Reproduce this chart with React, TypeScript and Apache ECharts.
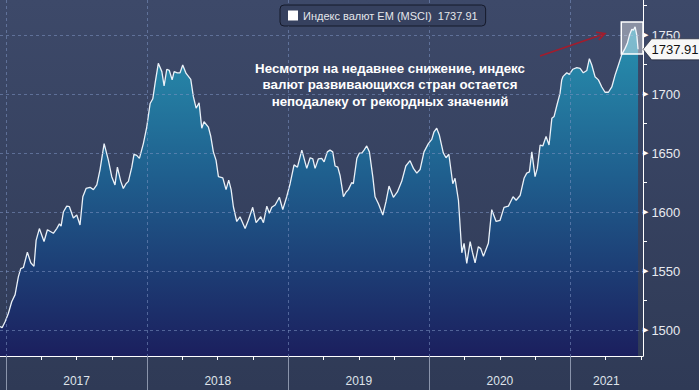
import { useEffect, useRef } from 'react';
import * as echarts from 'echarts';

const SERIES_NAME = 'Индекс валют EM (MSCI)';

// [year fraction, index value]
const emIndex: [number, number][] = [
  [2016.957,1503],[2016.972,1502],[2016.993,1507],[2017.016,1514],[2017.040,1524],[2017.064,1530],[2017.087,1545],[2017.104,1552],[2017.123,1553],[2017.151,1566],[2017.175,1557],[2017.198,1554],[2017.213,1576],[2017.236,1586],[2017.269,1575],[2017.293,1585],[2017.335,1582],[2017.359,1586],[2017.378,1590],[2017.390,1588],[2017.406,1600],[2017.430,1605],[2017.449,1604.5],[2017.477,1595],[2017.501,1597.5],[2017.524,1589],[2017.544,1613],[2017.567,1620],[2017.595,1621],[2017.619,1619],[2017.643,1623],[2017.666,1636],[2017.695,1658],[2017.725,1644],[2017.749,1630],[2017.772,1623],[2017.789,1638],[2017.813,1626],[2017.831,1620],[2017.850,1624],[2017.867,1626],[2017.891,1638],[2017.907,1649],[2017.926,1648],[2017.945,1645.5],[2017.973,1658],[2017.997,1672],
  [2018.021,1692],[2018.040,1696],[2018.056,1709],[2018.079,1726],[2018.104,1719],[2018.120,1707],[2018.139,1721],[2018.157,1720],[2018.177,1712],[2018.191,1719],[2018.214,1718],[2018.233,1718],[2018.252,1724.6],[2018.276,1717.5],[2018.309,1712.5],[2018.327,1698],[2018.347,1688],[2018.368,1692.6],[2018.387,1671],[2018.403,1676.5],[2018.434,1672],[2018.451,1664],[2018.469,1651],[2018.488,1644],[2018.505,1630],[2018.536,1629],[2018.559,1619],[2018.578,1627],[2018.595,1619],[2018.611,1604.5],[2018.635,1592],[2018.658,1596],[2018.694,1586],[2018.717,1593],[2018.748,1604],[2018.772,1591],[2018.805,1596],[2018.824,1591],[2018.848,1605],[2018.866,1599],[2018.883,1604],[2018.907,1606],[2018.937,1612.5],[2018.961,1602],[2018.989,1613],
  [2019.013,1624],[2019.041,1640],[2019.065,1638],[2019.096,1652.5],[2019.131,1637],[2019.155,1646],[2019.174,1645],[2019.190,1637],[2019.213,1645],[2019.237,1645.5],[2019.254,1642.6],[2019.277,1651],[2019.296,1652.5],[2019.315,1651],[2019.332,1639],[2019.351,1638],[2019.367,1631],[2019.391,1613],[2019.410,1617],[2019.426,1619],[2019.450,1625],[2019.461,1624],[2019.486,1645.5],[2019.504,1650],[2019.521,1650],[2019.537,1652.5],[2019.556,1656],[2019.575,1651],[2019.599,1630],[2019.615,1613],[2019.639,1607],[2019.670,1597.5],[2019.693,1609],[2019.714,1622],[2019.745,1612.5],[2019.773,1617],[2019.804,1626],[2019.833,1639],[2019.863,1643.5],[2019.887,1637],[2019.911,1633],[2019.934,1636],[2019.962,1651],[2019.993,1658],
  [2020.017,1661.6],[2020.033,1668],[2020.052,1671],[2020.071,1665],[2020.099,1650],[2020.118,1646],[2020.138,1649],[2020.166,1624],[2020.182,1628.6],[2020.206,1610],[2020.230,1565.5],[2020.246,1573.5],[2020.265,1556.5],[2020.289,1575],[2020.305,1566],[2020.324,1557],[2020.347,1570.6],[2020.364,1569],[2020.383,1562.5],[2020.418,1573.5],[2020.442,1602],[2020.473,1592],[2020.501,1593],[2020.529,1604],[2020.560,1605],[2020.593,1613],[2020.615,1610],[2020.643,1614],[2020.671,1628.6],[2020.690,1633],[2020.709,1634],[2020.726,1651],[2020.749,1630],[2020.765,1637],[2020.785,1656.8],[2020.804,1656],[2020.827,1664],[2020.848,1656.8],[2020.868,1679.4],[2020.884,1681],[2020.907,1692],[2020.926,1700.5],[2020.938,1712],[2020.948,1715],[2020.974,1718],[2020.992,1716.7],
  [2021.016,1721],[2021.045,1722.3],[2021.068,1721.8],[2021.091,1718],[2021.116,1720],[2021.134,1730],[2021.151,1724.6],[2021.174,1714.7],[2021.198,1712],[2021.222,1706],[2021.245,1701.5],[2021.269,1701.5],[2021.293,1706],[2021.316,1716],[2021.340,1724.6],[2021.364,1733.6],[2021.387,1738.7],[2021.403,1743],[2021.418,1750],[2021.435,1755],[2021.446,1754],[2021.458,1757],[2021.470,1750],[2021.479,1737.91],
];

const yLabelValues = [1500, 1550, 1600, 1650, 1700, 1750];
const yMinorTicks = [1525, 1575, 1625, 1675, 1725, 1775];
const yearStarts = [2017, 2018, 2019, 2020, 2021];
const quarterTicks = [
  2017.25, 2017.5, 2017.75, 2018.25, 2018.5, 2018.75, 2019.25, 2019.5, 2019.75,
  2020.25, 2020.5, 2020.75, 2021.25, 2021.5,
];
const yearLabelPos = [2017.5, 2018.5, 2019.5, 2020.5, 2021.254];

const X_MIN = 2016.957;
const X_MAX = 2021.514;
const Y_MIN = 1478;
const Y_MAX = 1779.7;

const highlightX = [2021.36, 2021.514];
const highlightY = [1761, 1734];

const noteLines = [
  'Несмотря на недавнее снижение, индекс',
  'валют развивающихся стран остается',
  'неподалеку от рекордных значений',
];

const FONT = 'Liberation Sans, Arial, sans-serif';
const GRID_DASH = 'rgba(125,148,195,0.55)';

export default function App() {
  const ref = useRef<HTMLDivElement>(null);

  useEffect(() => {
    if (!ref.current) return;
    const chart = echarts.init(ref.current, undefined, { renderer: 'svg' });
    const last = emIndex[emIndex.length - 1];
    const lastText = last[1].toFixed(2);

    const option: any = {
      animation: false,
      backgroundColor: {
        type: 'linear', x: 0, y: 0, x2: 0, y2: 1,
        colorStops: [
          { offset: 0, color: '#3d4969' },
          { offset: 1, color: '#2f3a56' },
        ],
      },
      grid: { left: 0, right: 56, top: 0, bottom: 34, containLabel: false },
      legend: {
        data: [{ name: SERIES_NAME, icon: 'rect', itemStyle: { color: '#ffffff', borderWidth: 0 } }],
        left: 280,
        top: 5,
        padding: [5, 8, 5, 8],
        itemWidth: 10,
        itemHeight: 10,
        selectedMode: false,
        formatter: (n: string) => `${n}  ${lastText}`,
        textStyle: { color: '#e4e6ea', fontSize: 11, fontFamily: FONT },
        backgroundColor: '#36415f',
        borderColor: '#151a2b',
        borderWidth: 1,
        borderRadius: 4,
      },
      xAxis: [
        {
          type: 'value', min: X_MIN, max: X_MAX, position: 'bottom',
          axisLine: { show: true, lineStyle: { color: '#ffffff', width: 1 } },
          axisTick: { show: true, customValues: quarterTicks, length: 4, lineStyle: { color: '#ffffff' } },
          axisLabel: {
            show: true, customValues: yearLabelPos, margin: 19,
            formatter: (v: number) => String(Math.floor(v)),
            color: '#dfe3ea', fontSize: 12, fontFamily: FONT,
          },
          splitLine: { show: false },
        },
        {
          type: 'value', min: X_MIN, max: X_MAX, position: 'bottom', z: 3,
          axisLine: { show: false },
          axisTick: { show: true, customValues: yearStarts, length: 34, lineStyle: { color: '#8a94ab', width: 1 } },
          axisLabel: { show: false },
          splitLine: { show: true, lineStyle: { color: GRID_DASH, type: [3, 3], width: 1 } },
        },
      ],
      yAxis: [
        {
          type: 'value', min: Y_MIN, max: Y_MAX, position: 'right', z: 3,
          axisLine: { show: false },
          axisTick: { show: false, customValues: yLabelValues },
          axisLabel: {
            show: true, customValues: yLabelValues, margin: 0,
            formatter: (v: number) => `{t|▶}{v|${v}}`,
            rich: {
              t: { fontSize: 7, color: '#ffffff', fontFamily: 'DejaVu Sans' },
              v: { fontSize: 13, color: '#e8eaf0', fontFamily: FONT, padding: [0, 0, 0, 3] },
            },
          },
          splitLine: { show: true, lineStyle: { color: GRID_DASH, type: [3, 3], width: 1 } },
        },
        {
          type: 'value', min: Y_MIN, max: Y_MAX, position: 'right',
          axisLine: { show: true, lineStyle: { color: '#ffffff', width: 1 } },
          axisTick: { show: true, customValues: yMinorTicks, length: 4, lineStyle: { color: '#ffffff' } },
          axisLabel: { show: false },
          splitLine: { show: false },
        },
      ],
      series: [
        {
          name: SERIES_NAME,
          type: 'line',
          xAxisIndex: 0,
          yAxisIndex: 0,
          data: emIndex,
          showSymbol: false,
          symbol: 'none',
          z: 2,
          lineStyle: { color: '#eaf1f8', width: 1.3 },
          itemStyle: { color: '#ffffff' },
          areaStyle: {
            opacity: 1,
            color: {
              type: 'linear', x: 0, y: 0, x2: 0, y2: 1,
              colorStops: [
                { offset: 0, color: '#2892b0' },
                { offset: 0.45, color: '#1f5f8e' },
                { offset: 1, color: '#1b1f5e' },
              ],
            },
          },
          markPoint: {
            symbol: 'path://M0,10.5L9,0L60,0L60,21L9,21Z',
            symbolSize: [57, 21],
            symbolKeepAspect: false,
            symbolOffset: [33.5, 0],
            itemStyle: { color: '#f7f7f7', borderColor: '#1a1f30', borderWidth: 0.6 },
            label: {
              show: true, position: 'inside', offset: [3.5, 0],
              formatter: lastText, color: '#111111', fontSize: 13, fontFamily: FONT,
            },
            data: [{ coord: [last[0], last[1]], value: last[1] }],
          },
        },
        {
          name: 'highlight',
          type: 'line',
          data: [],
          z: 5,
          markArea: {
            silent: true,
            z: 5,
            itemStyle: { color: 'rgba(255,255,255,0.4)', borderColor: '#ffffff', borderWidth: 1.5 },
            data: [[
              { coord: [highlightX[0], highlightY[0]] },
              { coord: [highlightX[1], highlightY[1]] },
            ]],
          },
        },
      ],
      graphic: [
        {
          type: 'text', z: 20, x: 390, y: 60,
          style: {
            text: noteLines.join('\n'),
            textAlign: 'center', textVerticalAlign: 'top',
            fill: '#ffffff', fontSize: 13.3, fontWeight: 'bold', fontFamily: FONT,
            lineHeight: 16.5,
          },
        },
        {
          type: 'line', z: 20,
          shape: { x1: 540, y1: 56, x2: 604, y2: 34 },
          style: { stroke: '#a31c2c', lineWidth: 1.6 },
        },
        {
          type: 'polyline', z: 20,
          shape: { points: [[598.7, 39.9], [605, 33.5], [596.1, 32.3]] },
          style: { stroke: '#a31c2c', lineWidth: 1.6, fill: 'none' },
        },
      ],
    };

    chart.setOption(option);
    return () => chart.dispose();
  }, []);

  return (
    <div
      ref={ref}
      style={{ position: 'fixed', left: 0, top: 0, width: 699, height: 390 }}
    />
  );
}
